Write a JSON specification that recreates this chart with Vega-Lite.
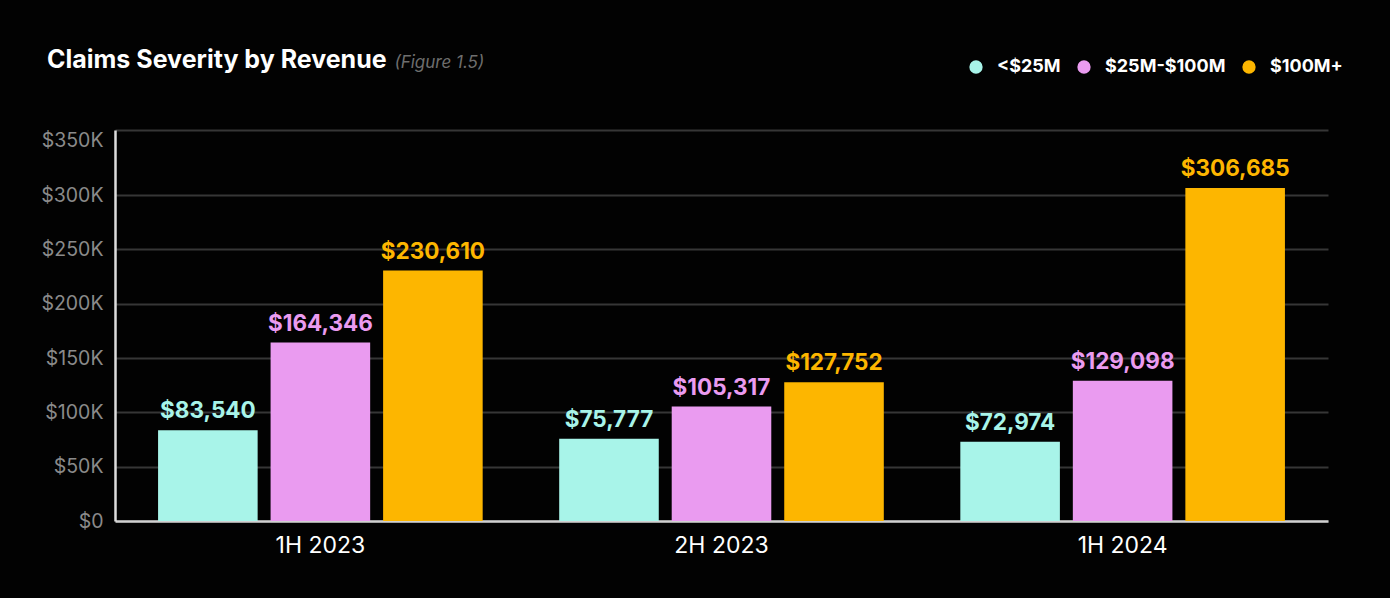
{
  "$schema": "https://vega.github.io/schema/vega-lite/v6.json",
  "autosize": {"type": "none"},
  "width": 1213,
  "height": 391,
  "padding": {"left": 115, "top": 130, "right": 62, "bottom": 77},
  "background": "#020202",
  "title": {
    "text": "Claims Severity by Revenue",
    "anchor": "start",
    "frame": "group",
    "dx": -68,
    "offset": -20,
    "font": "Inter",
    "fontSize": 25,
    "fontWeight": "bold",
    "color": "#ffffff"
  },
  "data": {
    "values": [
      {"period": "1H 2023", "revenue": "<$25M", "severity": 83540},
      {"period": "1H 2023", "revenue": "$25M-$100M", "severity": 164346},
      {"period": "1H 2023", "revenue": "$100M+", "severity": 230610},
      {"period": "2H 2023", "revenue": "<$25M", "severity": 75777},
      {"period": "2H 2023", "revenue": "$25M-$100M", "severity": 105317},
      {"period": "2H 2023", "revenue": "$100M+", "severity": 127752},
      {"period": "1H 2024", "revenue": "<$25M", "severity": 72974},
      {"period": "1H 2024", "revenue": "$25M-$100M", "severity": 129098},
      {"period": "1H 2024", "revenue": "$100M+", "severity": 306685}
    ]
  },
  "encoding": {
    "x": {
      "field": "period",
      "type": "nominal",
      "sort": ["1H 2023", "2H 2023", "1H 2024"],
      "scale": {"paddingInner": 0, "paddingOuter": 0.012},
      "axis": {
        "title": null,
        "labelAngle": 0,
        "labelFont": "Inter",
        "labelFontSize": 23,
        "labelColor": "#ffffff",
        "labelPadding": 13,
        "ticks": false,
        "domainColor": "#d0d0d0",
        "domainWidth": 2.5,
        "grid": false
      }
    },
    "xOffset": {
      "field": "revenue",
      "type": "nominal",
      "sort": ["<$25M", "$25M-$100M", "$100M+"],
      "scale": {"paddingInner": 0.115, "paddingOuter": 0.34}
    },
    "y": {
      "field": "severity",
      "type": "quantitative",
      "scale": {"domain": [0, 360000], "nice": false},
      "axis": {
        "values": [0, 50000, 100000, 150000, 200000, 250000, 300000, 350000, 360000],
        "labelExpr": "datum.value == 360000 ? '' : (datum.value == 0 ? '$0' : '$' + (datum.value / 1000) + 'K')",
        "labelFont": "Inter",
        "labelFontSize": 19.5,
        "labelColor": "#8a8a8a",
        "labelPadding": 12,
        "ticks": false,
        "domainColor": "#dddddd",
        "domainWidth": 2.5,
        "gridColor": "#363636",
        "gridWidth": 2,
        "gridOpacity": {"condition": {"test": "datum.value == 350000", "value": 0}, "value": 1},
        "title": "(Figure 1.5)",
        "titleAngle": 0,
        "titleX": 279,
        "titleY": -63,
        "titleAlign": "left",
        "titleBaseline": "alphabetic",
        "titleFont": "Inter",
        "titleFontSize": 17,
        "titleFontStyle": "italic",
        "titleFontWeight": "normal",
        "titleColor": "#6e6e6e"
      }
    },
    "color": {
      "field": "revenue",
      "type": "nominal",
      "scale": {
        "domain": ["<$25M", "$25M-$100M", "$100M+"],
        "range": ["#a8f4e9", "#ea9bf0", "#fdb600"]
      },
      "legend": {
        "title": null,
        "orient": "none",
        "legendX": 852,
        "legendY": -72,
        "direction": "horizontal",
        "symbolType": "circle",
        "symbolSize": 177,
        "symbolStrokeWidth": 0,
        "symbolOpacity": 1,
        "labelFont": "Inter",
        "labelFontSize": 18,
        "labelFontWeight": "bold",
        "labelColor": "#ffffff",
        "labelOffset": 12,
        "columnPadding": 14,
        "padding": 0
      }
    }
  },
  "layer": [
    {"mark": {"type": "bar", "opacity": 1}},
    {
      "mark": {
        "type": "text",
        "baseline": "bottom",
        "dy": -7,
        "font": "Inter",
        "fontSize": 22.5,
        "fontWeight": "bold"
      },
      "encoding": {
        "text": {"field": "severity", "type": "quantitative", "format": "$,d"}
      }
    }
  ],
  "config": {
    "view": {"stroke": null}
  }
}
